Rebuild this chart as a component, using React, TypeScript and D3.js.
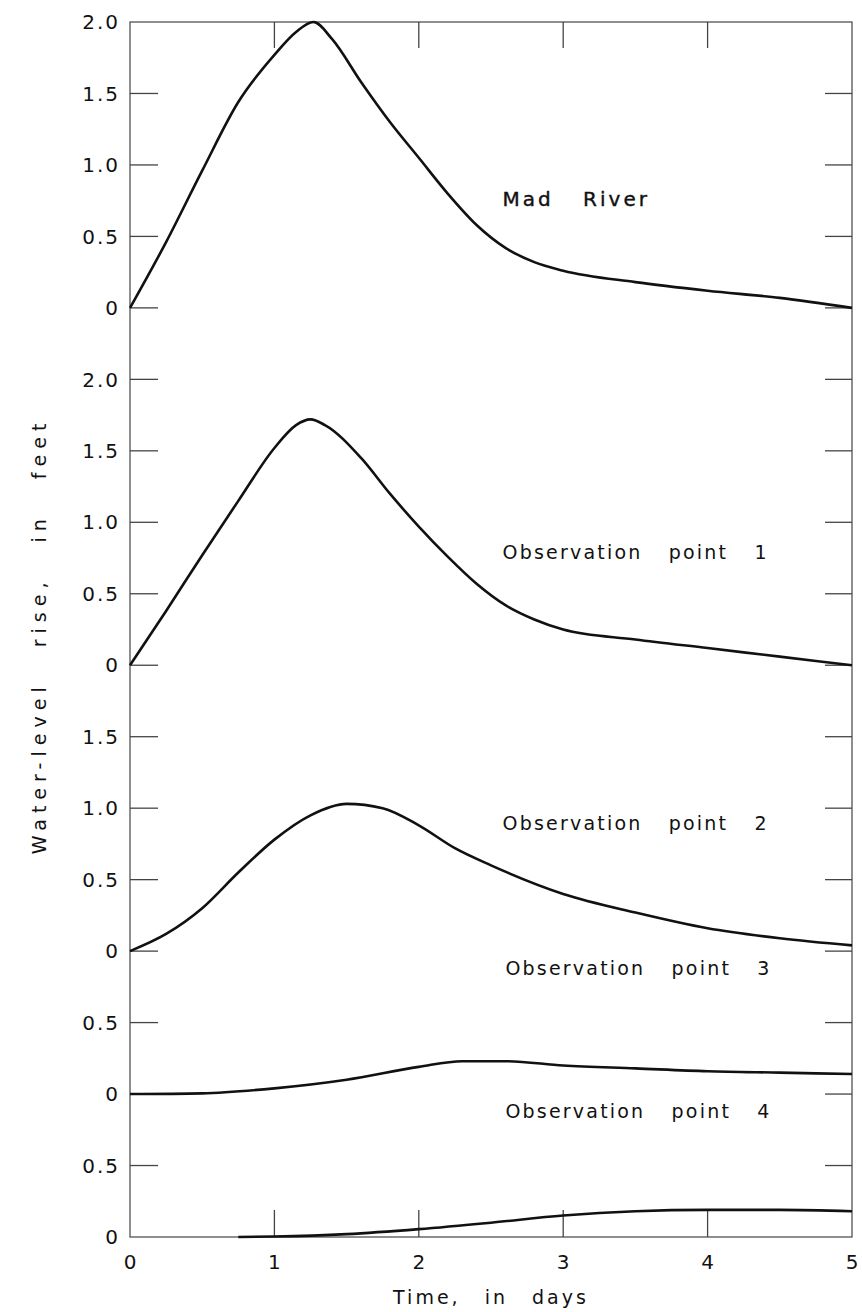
import React, { useEffect, useRef } from 'react';
import * as d3 from 'd3';

// time (days) and water-level rise (feet)
const madRiverT = [0, 0.25, 0.5, 0.75, 1.0, 1.15, 1.27, 1.4, 1.6, 1.8, 2.0, 2.2, 2.4, 2.6, 2.8, 3.0, 3.5, 4.0, 4.5, 5.0];
const madRiverV = [0, 0.46, 0.96, 1.44, 1.77, 1.93, 2.0, 1.88, 1.58, 1.3, 1.05, 0.8, 0.58, 0.42, 0.32, 0.26, 0.18, 0.12, 0.07, 0.0];

const obs1T = [0, 0.25, 0.5, 0.75, 1.0, 1.15, 1.25, 1.35, 1.6, 1.8, 2.0, 2.2, 2.4, 2.6, 2.8, 3.0, 3.5, 4.0, 4.5, 5.0];
const obs1V = [0, 0.38, 0.77, 1.15, 1.52, 1.68, 1.72, 1.68, 1.45, 1.2, 0.97, 0.76, 0.57, 0.42, 0.32, 0.25, 0.18, 0.12, 0.06, 0.0];

const obs2T = [0, 0.25, 0.5, 0.75, 1.0, 1.25, 1.5, 1.75, 2.0, 2.25, 2.5, 3.0, 3.5, 4.0, 4.5, 5.0];
const obs2V = [0, 0.12, 0.3, 0.55, 0.78, 0.95, 1.03, 1.0, 0.88, 0.72, 0.6, 0.4, 0.27, 0.16, 0.09, 0.04];

const obs3T = [0, 0.5, 1.0, 1.5, 2.0, 2.3, 2.6, 3.0, 3.5, 4.0, 4.5, 5.0];
const obs3V = [0, 0.005, 0.04, 0.1, 0.19, 0.23, 0.23, 0.2, 0.18, 0.16, 0.15, 0.14];

const obs4T = [0.75, 1.0, 1.5, 2.0, 2.5, 3.0, 3.5, 4.0, 4.5, 5.0];
const obs4V = [0, 0.003, 0.02, 0.055, 0.1, 0.15, 0.18, 0.19, 0.19, 0.18];

const curveNames = ['Mad River', 'Observation point 1', 'Observation point 2', 'Observation point 3', 'Observation point 4'];
// baseline (zero) row of each panel on the shared 0.5-ft grid, counted from the top
const baselineRows = [4, 9, 13, 15, 17];

const yTickLabels = ['2.0', '1.5', '1.0', '0.5', '0', '2.0', '1.5', '1.0', '0.5', '0', '1.5', '1.0', '0.5', '0', '0.5', '0', '0.5', '0'];
const xTickLabels = ['0', '1', '2', '3', '4', '5'];

const W = 862;
const H = 1312;
const FONT = '"DejaVu Sans", sans-serif';

const App = () => {
  const svgRef = useRef<SVGSVGElement>(null);

  useEffect(() => {
    const svg = d3.select(svgRef.current);
    svg.selectAll('*').remove();

    const left = 130, right = 852, top = 22, bottom = 1237;

    const x = d3.scaleLinear().domain([0, 5]).range([left, right]);
    const row = d3.scaleLinear().domain([0, yTickLabels.length - 1]).range([top, bottom]);

    const series = [
      [madRiverT, madRiverV],
      [obs1T, obs1V],
      [obs2T, obs2V],
      [obs3T, obs3V],
      [obs4T, obs4V],
    ];
    // label anchor in each panel's own data units (days, feet)
    const labelAt = [[2.58, 0.71], [2.58, 0.74], [2.58, 0.85], [2.6, 0.83], [2.6, 0.83]];

    const frame = '#444';

    // frame
    svg.append('rect')
      .attr('x', left).attr('y', top)
      .attr('width', right - left).attr('height', bottom - top)
      .attr('fill', 'none')
      .attr('stroke', frame)
      .attr('stroke-width', 1.2);

    // left + right ticks and left labels
    const g = svg.append('g');
    yTickLabels.forEach((lab, i) => {
      const yy = row(i);
      if (i > 0 && i < yTickLabels.length - 1) {
        g.append('line').attr('x1', left).attr('x2', left + 28).attr('y1', yy).attr('y2', yy)
          .attr('stroke', frame).attr('stroke-width', 1.3);
        g.append('line').attr('x1', right - 27).attr('x2', right).attr('y1', yy).attr('y2', yy)
          .attr('stroke', frame).attr('stroke-width', 1.3);
      }
      g.append('text')
        .attr('x', 120).attr('y', yy)
        .attr('dy', '0.36em')
        .attr('text-anchor', 'end')
        .attr('font-family', FONT)
        .attr('font-size', 20)
        .attr('letter-spacing', 2)
        .attr('fill', '#111')
        .text(lab);
    });

    // top + bottom ticks and x labels
    xTickLabels.forEach((lab, i) => {
      const xx = x(i);
      if (i > 0 && i < xTickLabels.length - 1) {
        g.append('line').attr('x1', xx).attr('x2', xx).attr('y1', top).attr('y2', top + 26)
          .attr('stroke', frame).attr('stroke-width', 1.3);
        g.append('line').attr('x1', xx).attr('x2', xx).attr('y1', bottom - 27).attr('y2', bottom)
          .attr('stroke', frame).attr('stroke-width', 1.3);
      }
      g.append('text')
        .attr('x', xx).attr('y', 1269)
        .attr('text-anchor', 'middle')
        .attr('font-family', FONT)
        .attr('font-size', 20)
        .attr('fill', '#111')
        .text(lab);
    });

    // curves
    series.forEach(([ts, vs], k) => {
      const base = baselineRows[k];
      const y = d3.scaleLinear().domain([0, 1]).range([row(base), row(base - 2)]);
      const line = d3.line<number>()
        .x((_, i) => x(ts[i]))
        .y(v => y(v))
        .curve(d3.curveMonotoneX);

      svg.append('path')
        .datum(vs)
        .attr('fill', 'none')
        .attr('stroke', '#111')
        .attr('stroke-width', 2.6)
        .attr('stroke-linejoin', 'round')
        .attr('d', line);

      svg.append('text')
        .attr('x', x(labelAt[k][0]))
        .attr('y', y(labelAt[k][1]))
        .attr('font-family', FONT)
        .attr('font-size', k === 0 ? 20 : 19)
        .attr('letter-spacing', k === 0 ? 3 : 2.2)
        .attr('word-spacing', k === 0 ? 20 : 18)
        .attr('fill', '#111')
        .attr('stroke', k === 0 ? '#111' : 'none')
        .attr('stroke-width', 0.4)
        .text(curveNames[k]);
    });

    // axis titles
    svg.append('text')
      .attr('x', (left + right) / 2)
      .attr('y', 1304)
      .attr('text-anchor', 'middle')
      .attr('font-family', FONT)
      .attr('font-size', 19)
      .attr('letter-spacing', 3)
      .attr('word-spacing', 15)
      .attr('fill', '#111')
      .text('Time, in days');

    svg.append('text')
      .attr('transform', `translate(46,636) rotate(-90)`)
      .attr('text-anchor', 'middle')
      .attr('font-family', FONT)
      .attr('font-size', 19)
      .attr('letter-spacing', 6)
      .attr('word-spacing', 22)
      .attr('fill', '#111')
      .text('Water-level rise, in feet');
  }, []);

  return (
    <svg
      ref={svgRef}
      width={W}
      height={H}
      style={{ position: 'absolute', left: 0, top: 0, background: '#fff' }}
    />
  );
};

export default App;
